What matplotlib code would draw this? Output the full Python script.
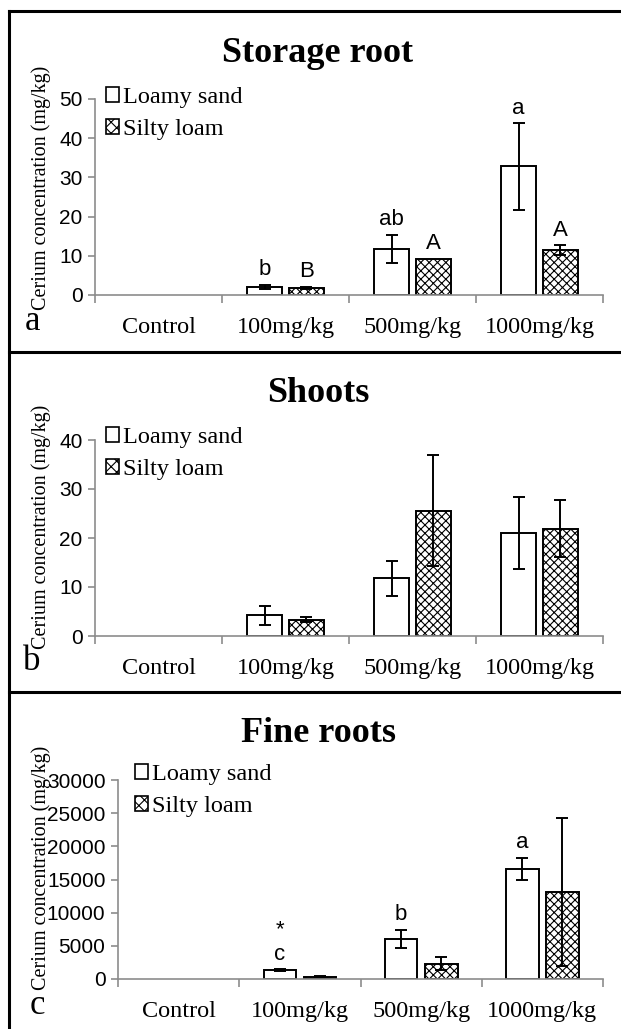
import numpy as np
import matplotlib
matplotlib.use("Agg")
import matplotlib.pyplot as plt
from matplotlib.lines import Line2D

W, H = 621, 1029

categories = ["Control", "100mg/kg", "500mg/kg", "1000mg/kg"]
series_names = ["Loamy sand", "Silty loam"]

# Storage root (panel a)
storage_loamy = [0, 2.0, 11.7, 32.8]
storage_loamy_err = [0, 0.5, 3.6, 11.0]
storage_silty = [0, 1.8, 9.3, 11.4]
storage_silty_err = [0, 0.3, 0.0, 1.3]
storage_loamy_txt = ["", "b", "ab", "a"]
storage_silty_txt = ["", "B", "A", "A"]

# Shoots (panel b)
shoots_loamy = [0, 4.2, 11.8, 21.0]
shoots_loamy_err = [0, 1.9, 3.6, 7.4]
shoots_silty = [0, 3.3, 25.6, 21.9]
shoots_silty_err = [0, 0.5, 11.3, 5.8]

# Fine roots (panel c)
fine_loamy = [0, 1300, 6030, 16630]
fine_loamy_err = [0, 150, 1400, 1650]
fine_silty = [0, 350, 2310, 13120]
fine_silty_err = [0, 100, 1000, 11100]
fine_loamy_txt = ["", "c", "b", "a"]

SERIF = "Liberation Serif"
SANS = "Liberation Sans"
AXC = "#8c8c8c"
plt.rcParams["hatch.linewidth"] = 0.8


def fig_rect(left, right, top, bottom):
    return [left / W, 1 - bottom / H, (right - left) / W, (bottom - top) / H]


def no_zero(errs):
    # no error bar drawn where the error is zero
    return [e if e > 0 else np.nan for e in errs]


def draw_panel(fig, rect, title, ymax, ystep, loamy, loamy_err, silty, silty_err,
               title_y, legend_xy, ylabel_x, ylabel_y, letter, letter_xy):
    ax = fig.add_axes(rect)
    x = np.arange(len(categories))
    w = 0.27
    off = 0.165
    ekw = dict(ecolor="black", elinewidth=1.4, capsize=4.5, capthick=1.4)
    # zero bars (control) are not drawn with an outline
    lw_l = [1.4 if v > 0 else 0 for v in loamy]
    lw_s = [1.4 if v > 0 else 0 for v in silty]
    ax.bar(x - off, loamy, w, color="white", edgecolor="black", linewidth=lw_l,
           yerr=no_zero(loamy_err), error_kw=ekw, zorder=2)
    bs = ax.bar(x + off, silty, w, color="white", edgecolor="black", linewidth=lw_s,
                hatch="xxxx", yerr=no_zero(silty_err), error_kw=ekw, zorder=2)
    for b, v in zip(bs, silty):
        if v == 0:
            b.set_visible(False)
    ax.set_xlim(-0.5, 3.5)
    ax.set_ylim(0, ymax)
    ax.set_yticks(np.arange(0, ymax + 1, ystep))
    ax.set_xticks(np.arange(-0.5, 3.6, 1))
    ax.set_xticklabels([])
    ax.set_xticks(x, minor=True)
    ax.set_xticklabels(categories, minor=True, fontfamily=SERIF, fontsize=17.5)
    ax.tick_params(axis="x", which="minor", length=0, pad=16)
    ax.tick_params(axis="x", which="major", length=6, direction="out", color=AXC, width=1.2)
    ax.tick_params(axis="y", length=5, direction="out", color=AXC, width=1.2, labelsize=15, pad=4)
    for lab in ax.get_yticklabels():
        lab.set_fontfamily(SANS)
    for s in ["top", "right"]:
        ax.spines[s].set_visible(False)
    for s in ["left", "bottom"]:
        ax.spines[s].set_color(AXC)
        ax.spines[s].set_linewidth(1.2)

    fig.text(318 / W, 1 - title_y / H, title, fontfamily=SERIF, fontweight="bold",
             fontsize=26, ha="center", va="center")
    fig.text(ylabel_x / W, 1 - ylabel_y / H, "Cerium concentration (mg/kg)",
             fontfamily=SERIF, fontsize=14.5, rotation=90, ha="center", va="center")
    fig.text(letter_xy[0] / W, 1 - letter_xy[1] / H, letter, fontfamily=SERIF,
             fontsize=25, ha="center", va="center")

    handles = [plt.Rectangle((0, 0), 1, 1, facecolor="white", edgecolor="black", linewidth=1.2),
               plt.Rectangle((0, 0), 1, 1, facecolor="white", edgecolor="black", linewidth=1.2,
                             hatch="xxx")]
    fig.legend(handles, series_names, loc="upper left",
               bbox_to_anchor=(legend_xy[0] / W, 1 - legend_xy[1] / H),
               bbox_transform=fig.transFigure, frameon=False,
               prop={"family": SERIF, "size": 17.5}, handlelength=0.55, handleheight=0.55,
               handletextpad=0.15, labelspacing=0.45, borderpad=0, borderaxespad=0)
    return ax


fig = plt.figure(figsize=(W / 100, H / 100), dpi=100)

ax_a = draw_panel(fig, fig_rect(95, 603, 99, 295), "Storage root", 50, 10,
                  storage_loamy, storage_loamy_err, storage_silty, storage_silty_err,
                  53, (106, 87), 41, 188, "a", (32, 322))
xs = np.arange(len(categories))
for i in range(len(categories)):
    if storage_loamy_txt[i]:
        top = storage_loamy[i] + storage_loamy_err[i]
        ax_a.text(xs[i] - 0.165, top + 1.2, storage_loamy_txt[i], fontfamily=SANS,
                  fontsize=16, ha="center", va="bottom")
    if storage_silty_txt[i]:
        top = storage_silty[i] + storage_silty_err[i]
        ax_a.text(xs[i] + 0.165, top + 1.2, storage_silty_txt[i], fontfamily=SANS,
                  fontsize=16, ha="center", va="bottom")

ax_b = draw_panel(fig, fig_rect(95, 603, 440, 636), "Shoots", 40, 10,
                  shoots_loamy, shoots_loamy_err, shoots_silty, shoots_silty_err,
                  393, (106, 427), 41, 527, "b", (32, 662))

ax_c = draw_panel(fig, fig_rect(118, 603, 780, 979), "Fine roots", 30000, 5000,
                  fine_loamy, fine_loamy_err, fine_silty, fine_silty_err,
                  733, (135, 764), 41, 868, "c", (37, 1005))
for i in range(len(categories)):
    if fine_loamy_txt[i]:
        top = fine_loamy[i] + fine_loamy_err[i]
        ax_c.text(xs[i] - 0.165, top + 700, fine_loamy_txt[i], fontfamily=SANS,
                  fontsize=16, ha="center", va="bottom")
ax_c.text(xs[1] - 0.165, 5800, "*", fontfamily=SANS, fontsize=16, ha="center", va="bottom")

# panel frames
for y in [11, 352, 692]:
    fig.add_artist(Line2D([9 / W, 1], [1 - y / H, 1 - y / H], color="black",
                          linewidth=2.2, transform=fig.transFigure))
fig.add_artist(Line2D([9 / W, 9 / W], [1 - 11 / H, 0], color="black",
                      linewidth=2.2, transform=fig.transFigure))

fig.savefig("out.png", dpi=100)
